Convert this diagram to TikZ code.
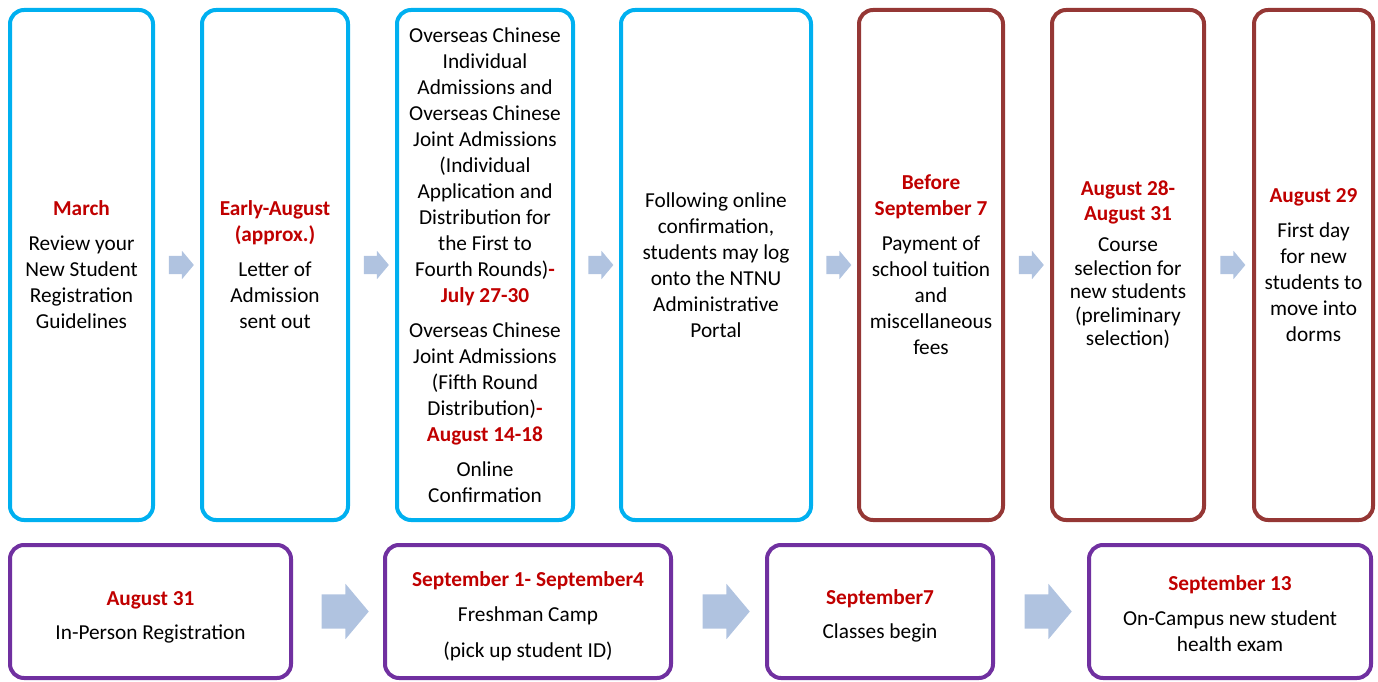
\documentclass[tikz,border=0pt]{standalone}
\usepackage{fontspec}
\setmainfont{Carlito}
\usetikzlibrary{shapes.arrows,calc}
\definecolor{onlineblue}{HTML}{00B0F0}
\definecolor{feesred}{HTML}{953735}
\definecolor{campuspurple}{HTML}{7030A0}
\definecolor{datered}{HTML}{C00000}
\definecolor{arrowfill}{HTML}{B0C3E0}
\newcommand{\dt}[1]{{\color{datered}\bfseries #1}}
\tikzset{
  box/.style={draw,line width=4pt,rounded corners=14pt,align=center,inner sep=0pt},
  onlinebox/.style={box,draw=onlineblue,minimum height=510pt},
  feesbox/.style={box,draw=feesred,minimum height=510pt},
  campusbox/.style={box,draw=campuspurple,minimum height=133pt},
  thinarrow/.style={single arrow,fill=arrowfill,inner xsep=0pt,inner ysep=9pt,
    minimum height=25pt,single arrow head extend=5pt,single arrow tip angle=100},
  bigarrow/.style={single arrow,fill=arrowfill,inner xsep=0pt,inner ysep=17pt,
    minimum height=47pt,single arrow head extend=10.5pt,single arrow tip angle=100}
}
\begin{document}
\begin{tikzpicture}[x=1pt,y=-1pt,font=\fontsize{21.3}{26}\selectfont]
  \useasboundingbox (0,0) rectangle (1378,682);
  %% top row
  \node[onlinebox,minimum width=143pt] (march) at (81.5,265)
    {\dt{March}\\[9pt]Review your\\New Student\\Registration\\Guidelines};
  \node[onlinebox,minimum width=146pt] (letter) at (275,265)
    {\dt{Early-August}\\\dt{(approx.)}\\[9pt]Letter of\\Admission\\sent out};
  \node[onlinebox,minimum width=176pt] (apply) at (485,265)
    {Overseas Chinese\\Individual\\Admissions and\\Overseas Chinese\\Joint Admissions\\(Individual\\Application and\\Distribution for\\the First to\\Fourth Rounds)\dt{-}\\\dt{July 27-30}\\[9pt]Overseas Chinese\\Joint Admissions\\(Fifth Round\\Distribution)\dt{-}\\\dt{August 14-18}\\[9pt]Online\\Confirmation};
  \node[onlinebox,minimum width=190pt] (portal) at (716,265)
    {Following online\\confirmation,\\students may log\\onto the NTNU\\Administrative\\Portal};
  \node[feesbox,minimum width=144pt] (tuition) at (931,265)
    {\dt{Before}\\\dt{September 7}\\[9pt]Payment of\\school tuition\\and\\miscellaneous\\fees};
  \node[feesbox,minimum width=152pt] (course) at (1128,265)
    {\dt{August 28-}\\[-1pt]\dt{August 31}\\[5pt]Course\\[-2.5pt]selection for\\[-2.5pt]new students\\[-2.5pt](preliminary\\[-2.5pt]selection)};
  \node[feesbox,minimum width=119pt] (dorm) at (1313.5,265)
    {\dt{August 29}\\[9pt]First day\\for new\\students to\\move into\\dorms};
  %% bottom row
  \node[campusbox,minimum width=281pt] (regist) at (150.5,611.5)
    {\rule{0pt}{25pt}\dt{August 31}\\[8pt]In-Person Registration};
  \node[campusbox,minimum width=286pt] (camp) at (528,611.5)
    {\rule{0pt}{25pt}\dt{September 1- September4}\\[9pt]Freshman Camp\\[10pt](pick up student ID)};
  \node[campusbox,minimum width=226pt] (classes) at (880,611.5)
    {\rule{0pt}{23pt}\dt{September7}\\[8pt]Classes begin};
  \node[campusbox,minimum width=282pt] (health) at (1230,611.5)
    {\rule{0pt}{19pt}\dt{September 13}\\[9pt]On-Campus new student\\health exam};
  %% arrows
  \foreach \a/\b in {march/letter,letter/apply,apply/portal,portal/tuition,tuition/course,course/dorm}
    \node[thinarrow] (\a-\b) at ($(\a.east)!0.5!(\b.west)$) {};
  \foreach \a/\b in {regist/camp,camp/classes,classes/health}
    \node[bigarrow] (\a-\b) at ($(\a.east)!0.5!(\b.west)$) {};
\end{tikzpicture}
\end{document}
